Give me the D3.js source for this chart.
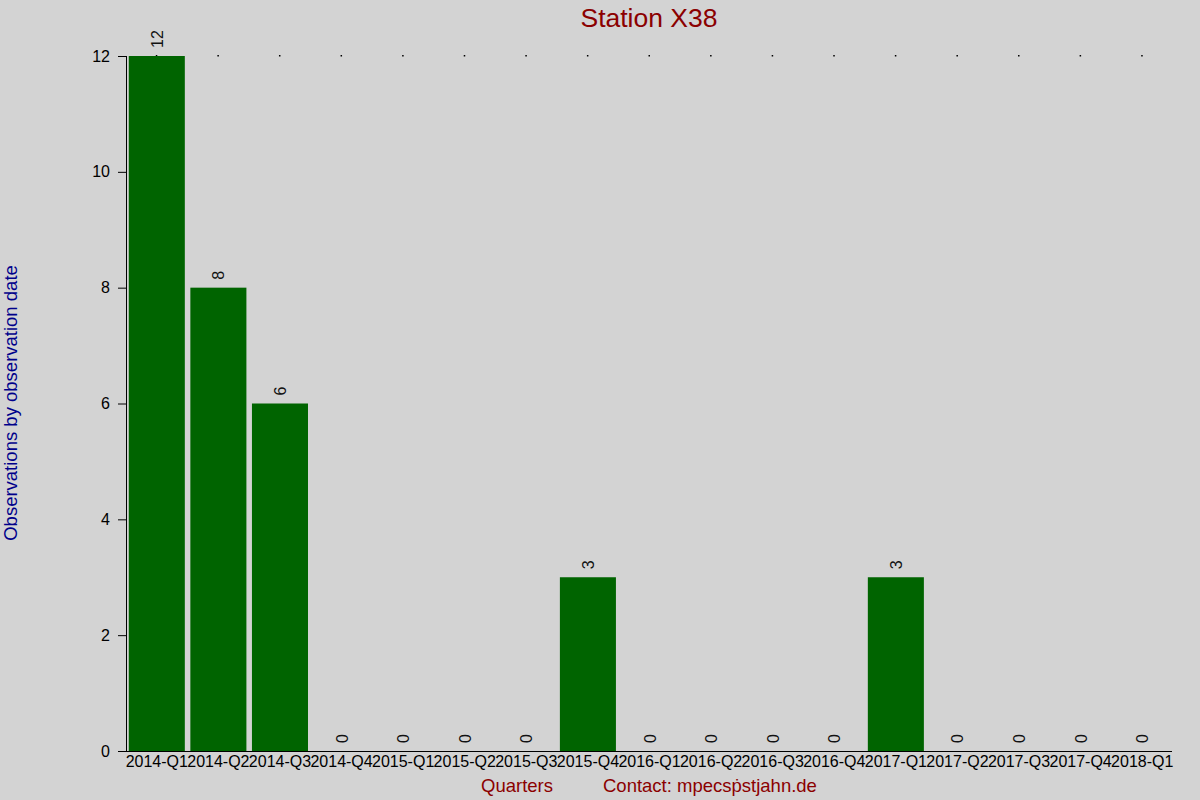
<!DOCTYPE html>
<html><head><meta charset="utf-8">
<script src="https://cdn.jsdelivr.net/npm/d3@7"></script>
<style>body{margin:0;background:#d3d3d3;} svg{display:block;font-family:"Liberation Sans",Arial,sans-serif;}</style>
</head><body>
<script>
const categories = ["2014-Q1","2014-Q2","2014-Q3","2014-Q4","2015-Q1","2015-Q2","2015-Q3","2015-Q4","2016-Q1","2016-Q2","2016-Q3","2016-Q4","2017-Q1","2017-Q2","2017-Q3","2017-Q4","2018-Q1"];
const values = [12,8,6,0,0,0,0,3,0,0,0,0,3,0,0,0,0];
const yTicks = [0,2,4,6,8,10,12];

const W=1200,H=800;
const svg=d3.select("body").append("svg").attr("width",W).attr("height",H);
svg.append("rect").attr("width",W).attr("height",H).attr("fill","#d3d3d3");
const x=d3.scaleBand().domain(categories).range([126,1173]).paddingInner(0.09).paddingOuter(0.045);
const y=d3.scaleLinear().domain([0,12]).range([751,56]);

// top dots
svg.append("g").selectAll("rect").data(categories).join("rect")
  .attr("x",d=>x(d)+x.bandwidth()/2-1).attr("y",55).attr("width",1.5).attr("height",1.5).attr("fill","#000");

svg.append("g").selectAll("rect").data(values).join("rect")
  .attr("x",(d,i)=>x(categories[i])).attr("y",d=>y(d))
  .attr("width",x.bandwidth()).attr("height",d=>y(0)-y(d)).attr("fill","#006400");

svg.append("g").selectAll("text").data(values).join("text")
  .attr("transform",(d,i)=>`translate(${x(categories[i])+x.bandwidth()/2+6},${y(d)-8}) rotate(-90)`)
  .attr("font-size",16).attr("fill","#111").text(d=>d);

const xa=svg.append("g").attr("transform","translate(0,751)")
  .call(d3.axisBottom(x).tickSize(0).tickPadding(5));
xa.select(".domain").attr("d","M118,0.5H1172");
xa.selectAll("text").attr("font-size",16).attr("fill","#000").attr("font-family","Liberation Sans, Arial, sans-serif");

const ya=svg.append("g").attr("transform","translate(126,0)")
  .call(d3.axisLeft(y).tickValues(yTicks).tickSize(8).tickPadding(8));
ya.select(".domain").attr("d","M0.5,56V751");
ya.selectAll("text").attr("font-size",16).attr("fill","#000").attr("font-family","Liberation Sans, Arial, sans-serif");

svg.append("text").attr("x",649).attr("y",27).attr("text-anchor","middle")
  .attr("font-size",26.5).attr("fill","#8b0000").text("Station X38");
svg.append("text").attr("transform","translate(17,403) rotate(-90)").attr("text-anchor","middle")
  .attr("font-size",18.5).attr("fill","#00008b").text("Observations by observation date");
svg.append("text").attr("x",517).attr("y",792).attr("text-anchor","middle")
  .attr("font-size",18.5).attr("fill","#8b0000").text("Quarters");
svg.append("text").attr("x",603).attr("y",792)
  .attr("font-size",18.5).attr("fill","#8b0000").text("Contact: mpecsṗstjahn.de");
</script>
</body></html>
